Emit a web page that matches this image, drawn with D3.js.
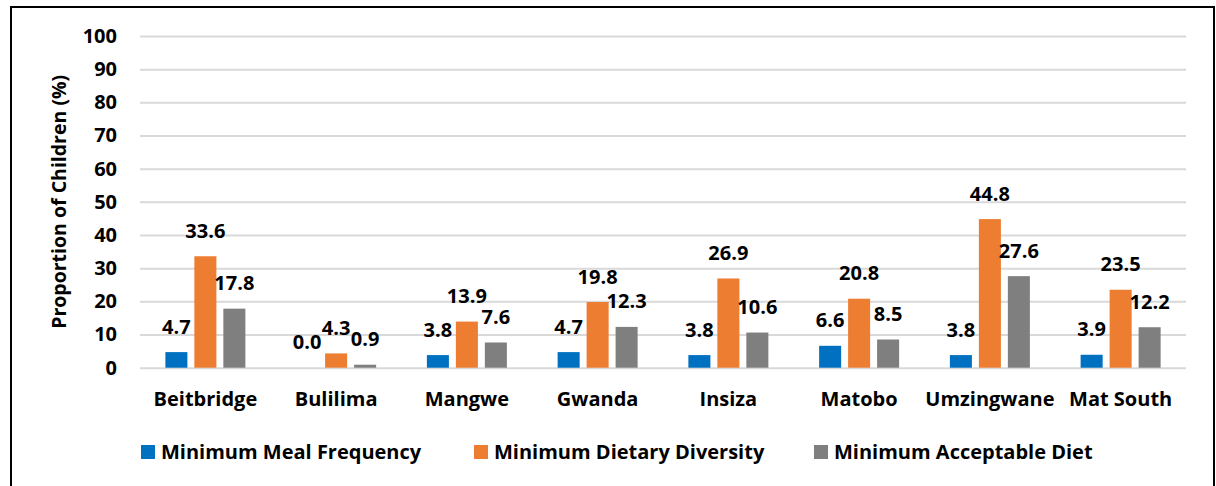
<!DOCTYPE html>
<html>
<head>
<meta charset="utf-8">
<script src="https://cdn.jsdelivr.net/npm/d3@7"></script>
<style>
  html, body { margin: 0; padding: 0; background: #fff; }
  svg { display: block; }
  text { font-family: "Open Sans", "Liberation Sans", sans-serif; font-weight: 700; fill: #000; }
</style>
</head>
<body>
<svg id="chart" width="1216" height="486"></svg>
<script>
const categories = ["Beitbridge", "Bulilima", "Mangwe", "Gwanda", "Insiza", "Matobo", "Umzingwane", "Mat South"];
const seriesNames = ["Minimum Meal Frequency", "Minimum Dietary Diversity", "Minimum Acceptable Diet"];
const mealFrequency = [4.7, 0.0, 3.8, 4.7, 3.8, 6.6, 3.8, 3.9];
const dietaryDiversity = [33.6, 4.3, 13.9, 19.8, 26.9, 20.8, 44.8, 23.5];
const acceptableDiet = [17.8, 0.9, 7.6, 12.3, 10.6, 8.5, 27.6, 12.2];
const yTicks = [0, 10, 20, 30, 40, 50, 60, 70, 80, 90, 100];
const colors = ["#0070C0", "#ED7D31", "#7F7F7F"];
const yTitle = "Proportion of Children (%)";

const seriesValues = [mealFrequency, dietaryDiversity, acceptableDiet];

const svg = d3.select("#chart");
svg.append("rect").attr("width", 1216).attr("height", 486).attr("fill", "#fff");
// outer frame
svg.append("rect").attr("x", 11).attr("y", 7).attr("width", 1203).attr("height", 520)
  .attr("fill", "none").attr("stroke", "#000").attr("stroke-width", 2);

const plot = { left: 140, right: 1186, top: 36, bottom: 367.7 };

const x = d3.scaleBand().domain(categories).range([plot.left, plot.right]).padding(0);
const groupW = 80;
const xs = d3.scaleBand().domain(seriesNames).range([0, groupW]).paddingInner(0.24);
const y = d3.scaleLinear().domain([0, 100]).range([plot.bottom, plot.top]);

// gridlines
const yAxis = d3.axisLeft(y).tickValues(yTicks).tickSize(-(plot.right - plot.left)).tickPadding(23).tickFormat(d3.format("d"));
const gy = svg.append("g").attr("transform", `translate(${plot.left},0)`).call(yAxis);
gy.select(".domain").remove();
gy.selectAll(".tick line").attr("stroke", "#D9D9D9").attr("stroke-width", 2);
gy.selectAll(".tick text").attr("font-size", 20).attr("font-family", "Open Sans").attr("font-weight", 700).attr("fill", "#000");

// y title
svg.append("text").attr("transform", `translate(66,${(plot.top + plot.bottom) / 2}) rotate(-90)`)
  .attr("text-anchor", "middle").attr("font-size", 19.5).text(yTitle);

// bars
seriesNames.forEach((s, si) => {
  const g = svg.append("g");
  const data = categories.map((c, i) => ({ c, v: seriesValues[si][i] }));
  g.selectAll("rect").data(data).join("rect")
    .attr("x", d => x(d.c) + x.bandwidth() / 2 - groupW / 2 + xs(s))
    .attr("y", d => y(d.v))
    .attr("width", xs.bandwidth())
    .attr("height", d => y(0) - y(d.v))
    .attr("fill", colors[si]);
  g.selectAll("text").data(data).join("text")
    .attr("x", d => x(d.c) + x.bandwidth() / 2 - groupW / 2 + xs(s) + xs.bandwidth() / 2)
    .attr("y", d => y(d.v) - 18.5)
    .attr("text-anchor", "middle").attr("font-size", 20)
    .text(d => d3.format(".1f")(d.v));
});

// category labels
const xAxis = d3.axisBottom(x).tickSize(0).tickPadding(0);
const gx = svg.append("g").attr("transform", `translate(0,${plot.bottom})`).call(xAxis);
gx.select(".domain").remove();
gx.selectAll(".tick text").attr("font-size", 20).attr("font-family", "Open Sans").attr("font-weight", 700)
  .attr("fill", "#000").attr("dy", null).attr("y", 38.5);

// legend
const legendX = [141, 474, 814];
const lg = svg.append("g");
seriesNames.forEach((s, i) => {
  lg.append("rect").attr("x", legendX[i]).attr("y", 445).attr("width", 14).attr("height", 14).attr("fill", colors[i]);
  lg.append("text").attr("x", legendX[i] + 20).attr("y", 459).attr("font-size", 20).text(s);
});
</script>
</body>
</html>
